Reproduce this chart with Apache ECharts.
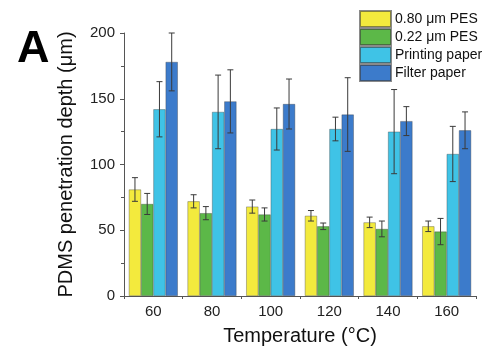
<!DOCTYPE html>
<html>
<head>
<meta charset="utf-8">
<script src="https://cdn.jsdelivr.net/npm/echarts@6/dist/echarts.min.js"></script>
<style>
  html, body { margin: 0; padding: 0; background: #fff; }
  #box { width: 488px; height: 351px; }
</style>
</head>
<body>
<div id="box"></div>
<script>
var temps = ['60', '80', '100', '120', '140', '160'];
var names = ['0.80 \u03bcm PES', '0.22 \u03bcm PES', 'Printing paper', 'Filter paper'];
var colors = ['#f3ea3d', '#5cb848', '#3fc3e6', '#3c7bcb'];

var pes080 = [81, 72, 68, 61, 56, 53];
var pes080Err = [9, 5, 5, 4, 4, 4];
var pes022 = [70, 63, 62, 53, 51, 49];
var pes022Err = [8, 5, 5, 2.5, 6, 10];
var printing = [142, 140, 127, 127, 125, 108];
var printingErr = [21, 28, 16, 9, 32, 21];
var filter = [178, 148, 146, 138, 133, 126];
var filterErr = [22, 24, 19, 28, 11, 14];

var values = [pes080, pes022, printing, filter];
var errors = [pes080Err, pes022Err, printingErr, filterErr];

var catGap = 0.165;

var chart = echarts.init(document.getElementById('box'));

function errorSeries(k) {
  var data = values[k].map(function (v, i) {
    return [i, v - errors[k][i], v + errors[k][i]];
  });
  return {
    type: 'custom',
    name: names[k] + ' err',
    z: 10,
    silent: true,
    data: data,
    encode: { x: 0, y: [1, 2] },
    renderItem: function (params, api) {
      var idx = api.value(0);
      var band = api.size([1, 0])[0];
      var barW = band * (1 - catGap) / 4;
      var base = api.coord([idx, api.value(1)]);
      var top = api.coord([idx, api.value(2)]);
      var x = base[0] - barW * 2 + barW * (k + 0.5);
      var cap = 3;
      var style = { stroke: '#3a3a3a', lineWidth: 1 };
      return {
        type: 'group',
        children: [
          { type: 'line', shape: { x1: x, y1: base[1], x2: x, y2: top[1] }, style: style },
          { type: 'line', shape: { x1: x - cap, y1: top[1], x2: x + cap, y2: top[1] }, style: style },
          { type: 'line', shape: { x1: x - cap, y1: base[1], x2: x + cap, y2: base[1] }, style: style }
        ]
      };
    }
  };
}

var series = [];
for (var k = 0; k < 4; k++) {
  series.push({
    name: names[k],
    type: 'bar',
    data: values[k],
    barGap: 0,
    barCategoryGap: (catGap * 100) + '%',
    itemStyle: { color: colors[k], borderColor: 'rgba(60,60,60,0.6)', borderWidth: 0.6 }
  });
}
for (var k = 0; k < 4; k++) series.push(errorSeries(k));

var option = {
  animation: false,
  textStyle: { fontFamily: 'Liberation Sans, Arial, sans-serif' },
  grid: { left: 124, right: 12, top: 33, bottom: 54 },
  title: {
    text: 'A',
    left: 12,
    top: 22,
    textStyle: { fontSize: 45, fontWeight: 'bold', color: '#000', fontFamily: 'Liberation Sans, Arial, sans-serif' }
  },
  legend: {
    data: names,
    orient: 'vertical',
    left: 359,
    top: 10,
    padding: 0,
    itemWidth: 31,
    itemHeight: 16,
    itemGap: 0,
    icon: 'rect',
    textStyle: { fontSize: 14, lineHeight: 16, color: '#111', padding: [0, 0, 0, -1] }
  },
  xAxis: [{
    type: 'category',
    data: temps,
    name: 'Temperature (\u00b0C)',
    nameLocation: 'middle',
    nameGap: 30,
    nameTextStyle: { fontSize: 20, color: '#111' },
    axisLine: { lineStyle: { color: '#555', width: 1 } },
    axisTick: { alignWithLabel: true, inside: true, length: 4, lineStyle: { color: '#555' } },
    axisLabel: { fontSize: 15, color: '#222', margin: 8 }
  }, {
    type: 'category',
    data: temps,
    position: 'bottom',
    axisLine: { show: false },
    axisTick: { show: true, length: 3, lineStyle: { color: '#555' } },
    axisLabel: { show: false }
  }],
  yAxis: {
    type: 'value',
    min: 0,
    max: 200,
    interval: 50,
    name: 'PDMS penetration depth (\u03bcm)',
    nameLocation: 'middle',
    nameGap: 48,
    nameTextStyle: { fontSize: 20, color: '#111' },
    axisLine: { show: true, lineStyle: { color: '#555', width: 1 } },
    axisTick: { show: true, length: 4, lineStyle: { color: '#555' } },
    minorTick: { show: true, splitNumber: 2, length: 3, lineStyle: { color: '#555' } },
    splitLine: { show: false },
    axisLabel: { fontSize: 15, color: '#222', margin: 9 }
  },
  series: series
};

chart.setOption(option);
</script>
</body>
</html>
